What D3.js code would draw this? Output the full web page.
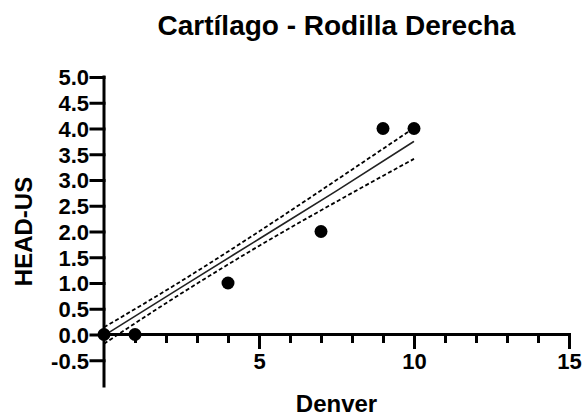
<!DOCTYPE html>
<html>
<head>
<meta charset="utf-8">
<script src="https://cdn.jsdelivr.net/npm/d3@7"></script>
<style>
	body { margin: 0; background: #fff; }
	text { font-family: "Liberation Sans", Arial, sans-serif; font-weight: bold; fill: #000; }
</style>
</head>
<body>
<div id="chart"></div>
<script>
const width = 583;
const height = 418;

// data
const denver = [0, 1, 4, 7, 9, 10];
const headUs = [0, 0, 1, 2, 4, 4];

// fitted line and 95% band, read at a few x positions
const fitX = [0, 2.5, 5, 7.5, 10];
const fitY = [-0.02, 0.92, 1.855, 2.79, 3.75];
const bandUpper = [0.14, 1.04, 2.0, 3.0, 4.01];
const bandLower = [-0.18, 0.8, 1.72, 2.58, 3.41];

const yTicks = [-0.5, 0, 0.5, 1, 1.5, 2, 2.5, 3, 3.5, 4, 4.5, 5];
const xMajor = [5, 10, 15];
const xMinor = d3.range(1, 15);

const svg = d3.select("#chart").append("svg")
	.attr("width", width)
	.attr("height", height);

const x = d3.scaleLinear().domain([0, 15]).range([104, 569]);
const y = d3.scaleLinear().domain([-1, 5]).range([386, 77]);

// title
svg.append("text")
	.attr("x", (x(0) + x(15)) / 2)
	.attr("y", 35)
	.attr("text-anchor", "middle")
	.style("font-size", "28px")
	.text("Cartílago - Rodilla Derecha");

// y axis (plain hyphen for negatives, like the original)
const yAxis = svg.append("g")
	.attr("transform", `translate(${x(0)},0)`)
	.call(d3.axisLeft(y).tickValues(yTicks).tickFormat(d => d.toFixed(1)).tickSize(13).tickPadding(2));
yAxis.select(".domain").attr("d", `M0,${y(5)}V${y(-1)}`);

// x axis
const xAxis = svg.append("g")
	.attr("transform", `translate(0,${y(0)})`);
xAxis.call(d3.axisBottom(x).tickValues(xMinor).tickFormat("").tickSize(7));
xAxis.call(g => g.append("g").call(d3.axisBottom(x).tickValues(xMajor).tickSize(13).tickPadding(6)));
xAxis.selectAll(".domain").attr("d", `M${x(0)},0H${x(15)}`);

svg.selectAll(".domain, .tick line")
	.attr("stroke", "#000")
	.attr("stroke-width", 3)
	.attr("stroke-linecap", "square");
svg.selectAll(".tick text")
	.style("font-size", "22px")
	.attr("fill", "#000");
yAxis.selectAll(".tick text").attr("dy", "0.36em");

// axis titles
svg.append("text")
	.attr("x", (x(0) + x(15)) / 2)
	.attr("y", 412)
	.attr("text-anchor", "middle")
	.style("font-size", "24px")
	.text("Denver");

svg.append("text")
	.attr("transform", `translate(32,${(y(5) + y(-1)) / 2}) rotate(-90)`)
	.attr("text-anchor", "middle")
	.style("font-size", "24px")
	.text("HEAD-US");

// regression line and band
const line = d3.line()
	.x((d, i) => x(fitX[i]))
	.y(d => y(d))
	.curve(d3.curveMonotoneX);

svg.append("path")
	.attr("d", line(fitY))
	.attr("fill", "none")
	.attr("stroke", "#222")
	.attr("stroke-width", 1.6);

[bandUpper, bandLower].forEach(band => {
	svg.append("path")
		.attr("d", line(band))
		.attr("fill", "none")
		.attr("stroke", "#000")
		.attr("stroke-width", 1.8)
		.attr("stroke-dasharray", "4,2.5");
});

// points
svg.selectAll("circle.pt")
	.data(denver)
	.join("circle")
	.attr("class", "pt")
	.attr("cx", d => x(d))
	.attr("cy", (d, i) => y(headUs[i]))
	.attr("r", 6.5)
	.attr("fill", "#000");
</script>
</body>
</html>
